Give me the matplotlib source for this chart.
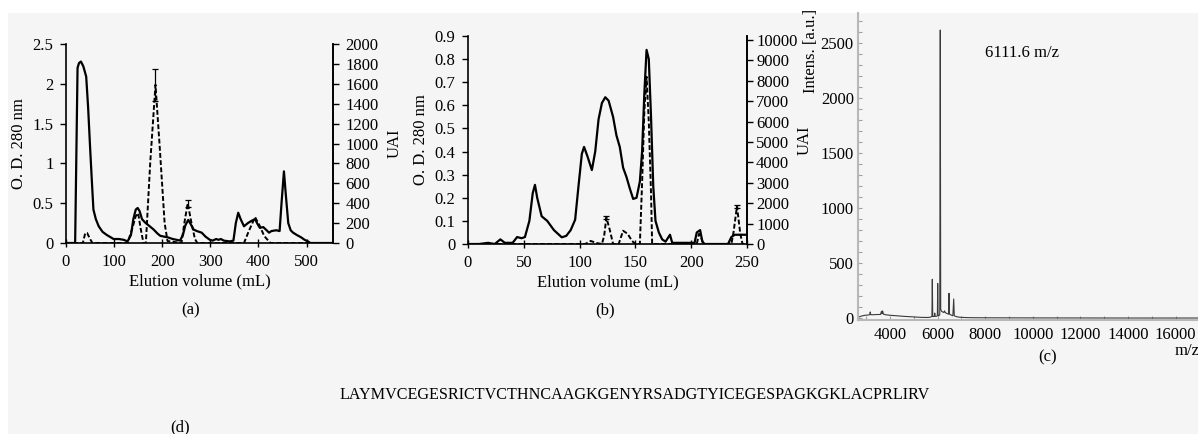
import matplotlib
matplotlib.use("Agg")
import matplotlib.pyplot as plt
from matplotlib.patches import Rectangle
from matplotlib.ticker import MultipleLocator

plt.rcParams["font.family"] = ["Liberation Serif", "DejaVu Serif"]
plt.rcParams["font.size"] = 12

# -----------------------------
# Data: panel (a)
# -----------------------------
vol_a = [0, 19, 24, 27, 31, 36, 42, 46, 50, 54, 57, 62, 68, 76, 85, 99, 110, 120, 128,
         135, 140, 145, 149, 153, 158, 164, 172, 182, 190, 196, 204, 212, 222, 230, 237,
         243, 248, 254, 259, 265, 272, 282, 290, 299, 305, 312, 317, 322, 328, 340, 348,
         353, 358, 363, 370, 378, 386, 393, 398, 403, 410, 417, 422, 427, 437, 444, 448,
         453, 457, 462, 467, 472, 480, 489, 496, 503, 508, 555]
od_a = [0, 0, 2.2, 2.26, 2.28, 2.22, 2.09, 1.7, 1.21, 0.75, 0.42, 0.3, 0.21, 0.14, 0.1,
        0.05, 0.05, 0.04, 0.02, 0.1, 0.3, 0.42, 0.44, 0.4, 0.3, 0.26, 0.22, 0.17, 0.12,
        0.09, 0.08, 0.07, 0.05, 0.04, 0.03, 0.1, 0.22, 0.29, 0.24, 0.17, 0.15, 0.13, 0.08,
        0.04, 0.03, 0.05, 0.04, 0.05, 0.03, 0.02, 0.03, 0.25, 0.38, 0.3, 0.21, 0.25, 0.28,
        0.3, 0.24, 0.19, 0.2, 0.16, 0.13, 0.15, 0.16, 0.15, 0.5, 0.9, 0.6, 0.25, 0.16,
        0.13, 0.1, 0.07, 0.04, 0.02, 0, 0]

vol_uai_a = [0, 35, 40, 44, 50, 55, 128, 138, 145, 150, 155, 161, 166, 175, 186, 195,
             205, 211, 240, 246, 253, 260, 268, 273, 370, 380, 393, 402, 412, 425, 555]
uai_a = [0, 0, 100, 100, 40, 0, 0, 150, 270, 300, 150, 0, 0, 800, 1590, 950, 200, 20,
         0, 200, 400, 220, 40, 0, 0, 120, 260, 180, 70, 0, 0]
err_a = [0, 0, 0, 0, 0, 0, 0, 0, 0, 0, 0, 0, 0, 0, 160, 0, 0, 0, 0, 0, 35, 0, 0, 0, 0,
         0, 0, 0, 0, 0, 0]

# -----------------------------
# Data: panel (b)
# -----------------------------
vol_b = [0, 10, 18, 24, 29, 33, 40, 44, 48, 51, 55, 58, 60, 62, 66, 71, 77, 84, 88, 92,
         96, 99, 102, 104, 107, 111, 114, 117, 120, 123, 126, 130, 133, 136, 139, 142,
         145, 148, 151, 154, 156, 158, 160, 162, 164, 166, 168, 171, 174, 177, 181, 183,
         195, 203, 205, 208, 210, 212, 233, 236, 239, 250]
od_b = [0, 0, 0.005, 0, 0.02, 0.005, 0.005, 0.03, 0.025, 0.03, 0.1, 0.22, 0.256, 0.2,
        0.12, 0.1, 0.06, 0.029, 0.035, 0.06, 0.105, 0.25, 0.39, 0.42, 0.38, 0.32, 0.4,
        0.54, 0.61, 0.635, 0.62, 0.55, 0.47, 0.42, 0.33, 0.29, 0.24, 0.195, 0.2, 0.27,
        0.4, 0.65, 0.84, 0.8, 0.55, 0.25, 0.1, 0.05, 0.02, 0.01, 0.04, 0.005, 0.005,
        0.005, 0.05, 0.06, 0.01, 0, 0, 0.03, 0.04, 0.04]

vol_uai_b = [0, 105, 110, 115, 120, 122, 124, 127, 130, 135, 139, 143, 147, 150, 154,
             156, 158, 160, 162, 164, 165, 205, 207, 209, 211, 236, 238, 241, 244, 246, 250]
uai_b = [0, 0, 150, 50, 0, 400, 1300, 700, 0, 0, 650, 500, 150, 0, 0, 3000, 6500, 8200,
         6000, 2500, 0, 0, 500, 300, 0, 0, 600, 1850, 500, 0, 0]
err_b = [0, 0, 0, 0, 0, 0, 60, 0, 0, 0, 0, 0, 0, 0, 0, 0, 0, 0, 0, 0, 0, 0, 0, 0, 0, 0,
         0, 80, 0, 0, 0]

# -----------------------------
# Data: panel (c) mass spectrum
# -----------------------------
mz = [2700, 2800, 2950, 3100, 3150, 3170, 3190, 3300, 3450, 3600, 3640, 3660, 3690,
      3720, 3750, 3800, 4000, 4300, 4600, 5000, 5300, 5600, 5700, 5760, 5777, 5795,
      5820, 5870, 5880, 5890, 5950, 5990, 6004, 6020, 6050, 6090, 6111.6, 6130, 6170,
      6220, 6260, 6290, 6320, 6400, 6460, 6479, 6500, 6560, 6640, 6676, 6700, 6800,
      6900, 7100, 7400, 8000, 10000, 14000, 17000]
intens = [10, 18, 25, 28, 30, 55, 30, 30, 32, 32, 60, 40, 65, 35, 35, 30, 25, 20, 15,
          10, 6, 5, 8, 15, 352, 15, 12, 20, 45, 15, 15, 20, 315, 25, 20, 30, 2620, 80,
          60, 55, 50, 65, 50, 40, 35, 225, 35, 28, 20, 173, 20, 12, 8, 5, 3, 2, 1, 0, 0]

sequence = "LAYMVCEGESRICTVCTHNCAAGKGENYRSADGTYICEGESPAGKGKLACPRLIRV"

W, H = 1198, 434


def px_box(l, t, r, b):
    return [l / W, (H - b) / H, (r - l) / W, (b - t) / H]


fig = plt.figure(figsize=(W / 100, H / 100), dpi=100)
fig.patches.append(Rectangle((8 / W, 0), 1, (H - 13) / H, transform=fig.transFigure,
                             facecolor="#f5f5f5", edgecolor="none", zorder=-10))


def chrom_panel(box, vol, od, vol_u, uai, err, xlim, ylim, ylim2, xstep, ystep, y2step,
                yfmt, uai_x, xlab_y, pad2):
    ax = fig.add_axes(box)
    ax.patch.set_visible(False)
    ax.plot(vol, od, color="black", lw=1.6, zorder=3)
    ax.set_xlim(*xlim)
    ax.set_ylim(*ylim)
    ax.xaxis.set_major_locator(MultipleLocator(xstep))
    ax.yaxis.set_major_locator(MultipleLocator(ystep))
    ax.yaxis.set_major_formatter(yfmt)
    ax.spines["top"].set_visible(False)
    for s in ("left", "bottom", "right"):
        ax.spines[s].set_linewidth(1.2)
    ax.tick_params(axis="x", direction="inout", length=6, width=1.0, pad=5)
    ax.tick_params(axis="y", direction="out", length=4, width=1.0, pad=5)
    ax.set_xlabel("Elution volume (mL)", va="top")
    ax.xaxis.set_label_coords(0.5, xlab_y)
    ax.set_ylabel("O. D. 280 nm", labelpad=4)

    ax2 = ax.twinx()
    ax2.patch.set_visible(False)
    ax2.plot(vol_u, uai, color="black", lw=1.4, ls=(0, (2.5, 1.2)), zorder=3)
    ex = [v for v, e in zip(vol_u, err) if e > 0]
    ey = [u for u, e in zip(uai, err) if e > 0]
    ee = [e for e in err if e > 0]
    ax2.errorbar(ex, ey, yerr=ee, fmt="none", ecolor="black", elinewidth=0.9,
                 capsize=2.5, capthick=0.9)
    ax2.yaxis.set_major_locator(MultipleLocator(y2step))
    ax2.set_ylim(*ylim2)
    ax2.spines["top"].set_visible(False)
    ax2.spines["left"].set_visible(False)
    ax2.spines["bottom"].set_visible(False)
    ax2.spines["right"].set_linewidth(1.2)
    ax2.tick_params(axis="y", direction="out", length=4, width=1.0, pad=pad2)
    ax2.set_ylabel("UAI")
    ax2.yaxis.set_label_coords(uai_x, 0.5)
    return ax, ax2


# -----------------------------
# Panel (a)
# -----------------------------
axa, axa2 = chrom_panel(px_box(66, 44, 333, 243), vol_a, od_a, vol_uai_a, uai_a, err_a,
                        (0, 555), (0, 2.5), (0, 2000), 100, 0.5, 200,
                        lambda v, pos: f"{v:g}", (387 - 66) / 267, (243 - 273) / 199, 5)
fig.text(191 / W, 1 - 310 / H, "(a)", ha="center", va="center")

# -----------------------------
# Panel (b)
# -----------------------------
axb, axb2 = chrom_panel(px_box(468, 36, 747, 244), vol_b, od_b, vol_uai_b, uai_b, err_b,
                        (0, 250), (0, 0.9), (0, 10200), 50, 0.1, 1000,
                        lambda v, pos: f"{v:.1f}" if v > 0 else "0",
                        (797 - 468) / 279, (244 - 274) / 208, 2.5)
fig.text(605 / W, 1 - 310 / H, "(b)", ha="center", va="center")

# -----------------------------
# Panel (c)
# -----------------------------
axc = fig.add_axes(px_box(858, 13, 1198, 320))
axc.patch.set_visible(False)
axc.plot(mz, intens, color="#3a3a3a", lw=0.8)
axc.xaxis.set_minor_locator(MultipleLocator(1000))
axc.yaxis.set_major_locator(MultipleLocator(500))
axc.yaxis.set_minor_locator(MultipleLocator(100))
axc.set_xticks([4000, 6000, 8000, 10000, 12000, 14000, 16000])
axc.set_xlim(2655, 16940)
axc.set_ylim(-18, 2775)
for s in ("top", "right"):
    axc.spines[s].set_visible(False)
for s in ("left", "bottom"):
    axc.spines[s].set_color("#b8b8b8")
    axc.spines[s].set_linewidth(1.5)
axc.tick_params(which="both", direction="in", color="#a0a0a0", length=3, width=0.8)
axc.tick_params(axis="x", which="major", pad=5)
axc.tick_params(axis="y", which="major", pad=3)
axc.set_ylabel("Intens. [a.u.]")
axc.yaxis.set_label_coords(-0.115, 0.875)
axc.text(6111.6 + 1900, 2410, "6111.6 m/z", ha="left", va="center")
fig.text(1175 / W, 1 - 351 / H, "m/z", ha="left", va="center")
fig.text(1048 / W, 1 - 357 / H, "(c)", ha="center", va="center")

# -----------------------------
# Panel (d)
# -----------------------------
fig.text(635 / W, 1 - 395 / H, sequence, ha="center", va="center", fontsize=11.6)
fig.text(180 / W, 1 - 427 / H, "(d)", ha="center", va="center")

fig.savefig("out.png", dpi=100)
